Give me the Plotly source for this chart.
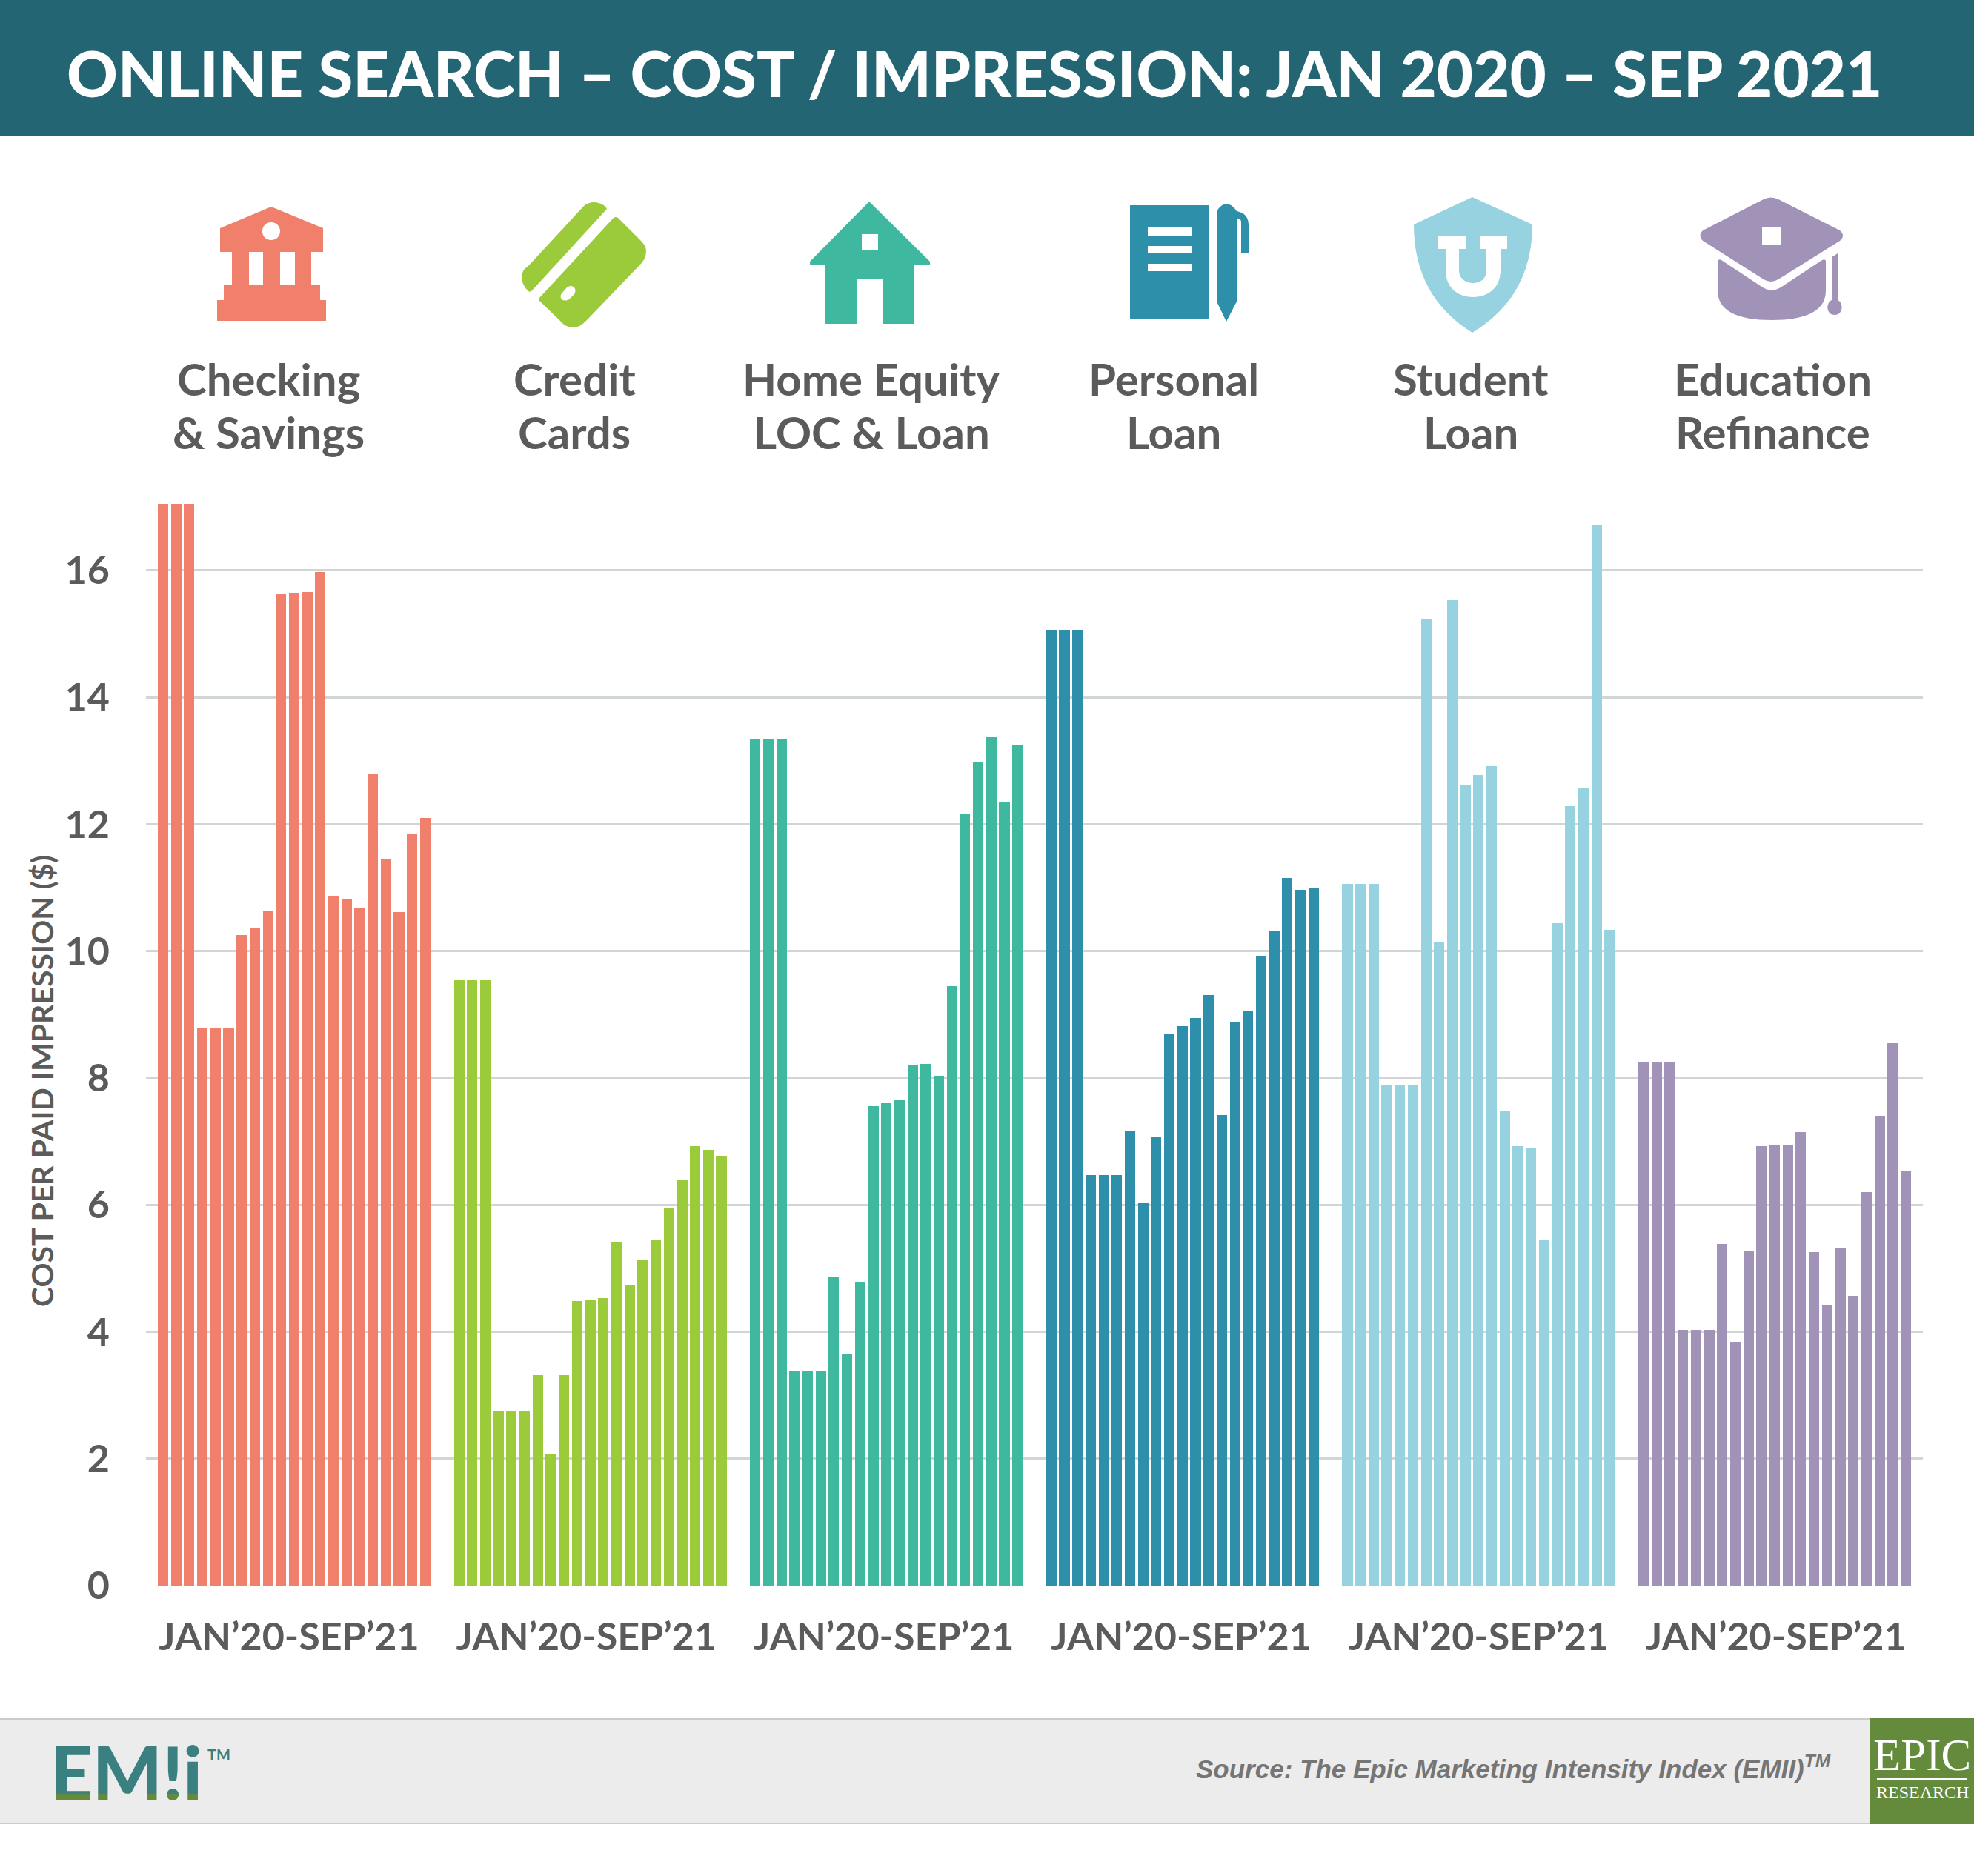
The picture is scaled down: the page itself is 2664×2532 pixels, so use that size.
import plotly.graph_objects as go

WIDTH = 2664
HEIGHT = 2532

CATEGORIES = [
    "Checking<br>& Savings",
    "Credit<br>Cards",
    "Home Equity<br>LOC & Loan",
    "Personal<br>Loan",
    "Student<br>Loan",
    "Education<br>Refinance",
]
COLORS = ["#f0806c", "#9bcb3b", "#3eb9a0", "#2d8fa9", "#96d2e0", "#a193b7"]

checking = [17.05, 17.05, 17.05, 8.78, 8.78, 8.78, 10.25, 10.37, 10.63, 15.62, 15.65,
            15.66, 15.97, 10.87, 10.82, 10.68, 12.80, 11.44, 10.62, 11.84, 12.10]
credit = [9.54, 9.54, 9.54, 2.75, 2.75, 2.75, 3.32, 2.07, 3.32, 4.48, 4.50,
          4.53, 5.42, 4.73, 5.13, 5.45, 5.96, 6.40, 6.93, 6.87, 6.77]
home_equity = [13.34, 13.34, 13.34, 3.39, 3.39, 3.39, 4.87, 3.64, 4.79, 7.55, 7.60,
               7.66, 8.20, 8.22, 8.03, 9.45, 12.16, 12.98, 13.37, 12.35, 13.24]
personal = [15.06, 15.06, 15.06, 6.47, 6.47, 6.47, 7.16, 6.02, 7.06, 8.70, 8.82,
            8.94, 9.31, 7.42, 8.87, 9.05, 9.92, 10.31, 11.15, 10.96, 10.99]
student = [11.06, 11.06, 11.06, 7.88, 7.88, 7.88, 15.23, 10.14, 15.53, 12.62, 12.78,
           12.91, 7.47, 6.93, 6.90, 5.45, 10.44, 12.28, 12.57, 16.72, 10.33]
education = [8.24, 8.24, 8.24, 4.03, 4.03, 4.03, 5.38, 3.84, 5.27, 6.93, 6.94,
             6.95, 7.15, 5.25, 4.41, 5.32, 4.56, 6.20, 7.40, 8.55, 6.53]
SERIES = [checking, credit, home_equity, personal, student, education]

Y_TICKS = [0, 2, 4, 6, 8, 10, 12, 14, 16]
X_TICK_LABEL = "JAN\u201920-SEP\u201921"
TITLE = "ONLINE SEARCH \u2013 COST / IMPRESSION: JAN 2020 \u2013 SEP 2021"
Y_TITLE = "COST PER PAID IMPRESSION ($)"
SOURCE = "Source: The Epic Marketing Intensity Index (EMII)<sup>TM</sup>"
LOGO = "EM!i"

GROUP_STEP = 22.58  # bar pitches between the start of two groups
LABEL_STEP = 22.68  # the range labels sit slightly wider apart than the groups
TEXT_GREY = "#5b5b5b"
FONT = "Lato"

fig = go.Figure()
for g, values in enumerate(SERIES):
    fig.add_trace(go.Bar(
        x=[g * GROUP_STEP + i for i in range(len(values))],
        y=values,
        width=0.8,
        marker=dict(color=COLORS[g], line_width=0),
        showlegend=False,
        name=CATEGORIES[g].replace("<br>", " "),
    ))


def add_shape(path, color, layer="above"):
    fig.add_shape(type="path", path=path, xref="x2", yref="y2", fillcolor=color,
                  line_width=0, layer=layer)


def add_text(x, y, text, size, color=TEXT_GREY, weight=400, family=FONT, style="normal", angle=0):
    fig.add_annotation(x=x, y=y, xref="x2", yref="y2", text=text, showarrow=False, textangle=angle,
                       font=dict(family=family, size=size, color=color, weight=weight, style=style),
                       xanchor="center", yanchor="middle")


# banner and footer
add_shape("M 0 0 H 2664 V 183 H 0 Z", "#246574")
add_shape("M 0 2319 H 2523 V 2462 H 0 Z", "#ececec")
add_shape("M 0 2319 H 2523 V 2321 H 0 Z", "#cfcaca")
add_shape("M 0 2460 H 2523 V 2462 H 0 Z", "#cfcaca")
add_shape("M 2523 2319 H 2664 V 2462 H 2523 Z", "#648a3c")
add_shape("M 2533 2400 H 2655 V 2403 H 2533 Z", "#ffffff")

# bank
add_shape("M 366 279 L 436 308 V 340 H 420 V 385 H 432 V 405 H 440 V 433 H 293 V 405 H 302 V 385 "
          "H 313 V 340 H 297 V 308 Z "
          "M 354 312 C 354 305 359 300 366 300 C 373 300 378 305 378 312 "
          "C 378 319 373 324 366 324 C 359 324 354 319 354 312 Z "
          "M 336 340 V 385 H 355 V 340 Z M 378 340 V 385 H 398 V 340 Z", COLORS[0])
# card
add_shape("M 788 278 Q 797 271 808 274 Q 816 276 819 282 L 719 391 Q 716 395 713 393 "
          "Q 700 380 706 366 Q 707 363 712 360 Z", COLORS[1])
add_shape("M 828 294 Q 831 292 834 294 L 862 322 Q 872 331 872 338 Q 872 350 863 358 L 792 432 "
          "Q 783 442 773 442 Q 763 442 755 432 L 728 406 Q 726 404 728 402 Z "
          "M 758 396 L 765 388 Q 771 384 775 388 Q 778 392 775 397 L 768 404 Q 762 407 758 404 "
          "Q 755 400 758 396 Z", COLORS[1])
# house
add_shape("M 1173 272 L 1255 353 V 358 H 1234 V 437 H 1191 V 377 H 1156 V 437 H 1113 V 358 H 1093 V 353 Z "
          "M 1163 316 V 338 H 1185 V 316 Z", COLORS[2])
# book and pen
add_shape("M 1525 277 H 1632 V 430 H 1525 Z M 1549 307 V 318 H 1609 V 307 Z "
          "M 1549 332 V 342 H 1609 V 332 Z M 1549 356 V 366 H 1609 V 356 Z", COLORS[3])
add_shape("M 1642 285 Q 1655 265 1669 285 Q 1685 288 1685 304 V 342 H 1675 V 300 Q 1675 294 1669 296 "
          "V 407 L 1655 434 L 1642 407 Z", COLORS[3])
# shield
add_shape("M 1987 266 L 2068 303 Q 2068 400 1987 449 Q 1908 400 1908 303 Z "
          "M 1941 318 V 336 H 1951 V 365 C 1951 390 1970 401 1988 401 C 2006 401 2025 390 2025 365 "
          "V 336 H 2034 V 318 H 1997 V 336 H 2006 V 365 C 2006 376 1998 382 1988 382 "
          "C 1978 382 1969 376 1969 365 V 336 H 1979 V 318 Z", COLORS[4])
# graduation cap
add_shape("M 2380 269 Q 2390 264 2400 269 L 2483 311 Q 2491 318 2483 325 L 2400 377 Q 2390 383 2380 377 "
          "L 2298 325 Q 2291 318 2298 311 Z M 2378 307 V 331 H 2403 V 307 Z", COLORS[5])
add_shape("M 2318 352 Q 2320 349 2323 351 L 2376 386 Q 2391 397 2406 386 L 2459 351 Q 2463 349 2464 352 "
          "V 392 Q 2464 432 2391 432 Q 2318 432 2318 392 Z", COLORS[5])
add_shape("M 2472 347 L 2480 342 V 405 C 2488 408 2488 425 2476 425 C 2464 425 2464 408 2472 405 Z", COLORS[5])

# text
add_text(1315, 98, TITLE, 85, color="#ffffff", weight=900)
LABEL_CENTERS = [362, 775, 1176, 1584, 1985, 2392]
for center, label in zip(LABEL_CENTERS, CATEGORIES):
    first, second = label.split("<br>")
    add_text(center, 511, first, 60, weight=700)
    add_text(center, 583, second, 60, weight=700)
add_text(56, 1459, Y_TITLE, 41, weight=700, angle=-90)
add_text(2042, 2385, SOURCE, 35, color="#757575", weight=700, family="Liberation Sans", style="italic")
add_text(170, 2390, LOGO, 99, color="#3a8080", weight=900)
add_text(295, 2368, "TM", 20, color="#3a8080", weight=700)
add_text(2594, 2368, "EPIC", 61, color="#ffffff", family="Liberation Serif")
add_text(2594, 2419, "RESEARCH", 24, color="#ffffff", family="Liberation Serif")

X_LEFT, X_RIGHT = 197, 2595
Y_BOTTOM, Y_TOP = 2140, 679

fig.update_layout(
    width=WIDTH,
    height=HEIGHT,
    margin=dict(l=0, r=0, t=0, b=0),
    paper_bgcolor="white",
    plot_bgcolor="rgba(0,0,0,0)",
    bargap=0,
    xaxis=dict(
        domain=[X_LEFT / WIDTH, X_RIGHT / WIDTH],
        range=[-1.3, 134.2],
        automargin=False,
        tickmode="array",
        tickvals=[g * LABEL_STEP + 9.6 for g in range(len(SERIES))],
        ticktext=[X_TICK_LABEL] * len(SERIES),
        tickfont=dict(family=FONT, size=52, color=TEXT_GREY, weight=700),
        ticks="",
        ticklabelstandoff=34,
        showgrid=False,
        zeroline=False,
    ),
    yaxis=dict(
        domain=[1 - Y_BOTTOM / HEIGHT, 1 - Y_TOP / HEIGHT],
        range=[0, 17.06],
        automargin=False,
        tickmode="array",
        tickvals=Y_TICKS,
        tickfont=dict(family=FONT, size=52, color=TEXT_GREY, weight=700),
        ticks="",
        ticklabelstandoff=48,
        showgrid=True,
        gridcolor="#cfd6d4",
        gridwidth=3,
        zeroline=False,
    ),
    # second pair of axes in picture pixels, for the banner, icons and footer
    xaxis2=dict(domain=[0, 1], range=[0, WIDTH], visible=False, anchor="y2", fixedrange=True, automargin=False),
    yaxis2=dict(domain=[0, 1], range=[HEIGHT, 0], visible=False, anchor="x2", fixedrange=True, automargin=False),
)

# the logo letters end in a green foot, which plotly has no font setting for
POST_SCRIPT = """
document.body.style.margin = '0';
document.querySelectorAll('.annotation-text').forEach(function (el) {
  if (el.textContent !== '%s') return;
  var ns = 'http://www.w3.org/2000/svg';
  var grad = document.createElementNS(ns, 'linearGradient');
  grad.id = 'logo-foot';
  grad.setAttribute('x1', '0'); grad.setAttribute('y1', '0');
  grad.setAttribute('x2', '0'); grad.setAttribute('y2', '1');
  [['0', '#3a8080'], ['0.76', '#3a8080'], ['0.77', '#668a3c'], ['1', '#668a3c']].forEach(function (s) {
    var stop = document.createElementNS(ns, 'stop');
    stop.setAttribute('offset', s[0]); stop.setAttribute('stop-color', s[1]);
    grad.appendChild(stop);
  });
  el.ownerSVGElement.appendChild(grad);
  el.style.fill = 'url(#logo-foot)';
});
""" % LOGO

fig.write_html("out.html", config={"displayModeBar": False}, post_script=POST_SCRIPT)
